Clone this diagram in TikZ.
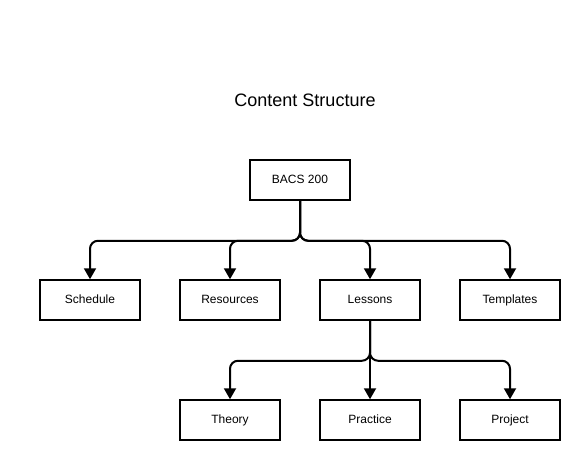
\documentclass[tikz,border=0pt]{standalone}
\usepackage{fontspec}
\setmainfont{Liberation Sans}
\usetikzlibrary{arrows.meta}
\tikzset{
  box/.style={draw, line width=1.5pt, minimum width=100pt, minimum height=40pt, text height=9pt, text depth=2.5pt, font=\fontsize{12}{14}\selectfont},
  conn/.style={line width=2pt, rounded corners=8pt, -{Triangle[length=11pt,width=12pt]}}
}
\begin{document}
\begin{tikzpicture}[x=1pt,y=-1pt]
\useasboundingbox (0,0) rectangle (580,460);
\node[font=\fontsize{18}{21}\selectfont] (title) at (305,100) {Content Structure};
\node[box] (bacs) at (300,180) {BACS 200};
\node[box] (sched) at (90,300) {Schedule};
\node[box] (res) at (230,300) {Resources};
\node[box] (less) at (370,300) {Lessons};
\node[box] (templ) at (510,300) {Templates};
\node[box] (theory) at (230,420) {Theory};
\node[box] (pract) at (370,420) {Practice};
\node[box] (proj) at (510,420) {Project};
% top level
\draw[conn] (bacs.south) -- ++(0,40) -| (sched.north);
\draw[conn] (bacs.south) -- ++(0,40) -| (res.north);
\draw[conn] (bacs.south) -- ++(0,40) -| (less.north);
\draw[conn] (bacs.south) -- ++(0,40) -| (templ.north);
% lessons
\draw[conn] (less.south) -- ++(0,40) -| (theory.north);
\draw[conn] (less.south) -- (pract.north);
\draw[conn] (less.south) -- ++(0,40) -| (proj.north);
\end{tikzpicture}
\end{document}
